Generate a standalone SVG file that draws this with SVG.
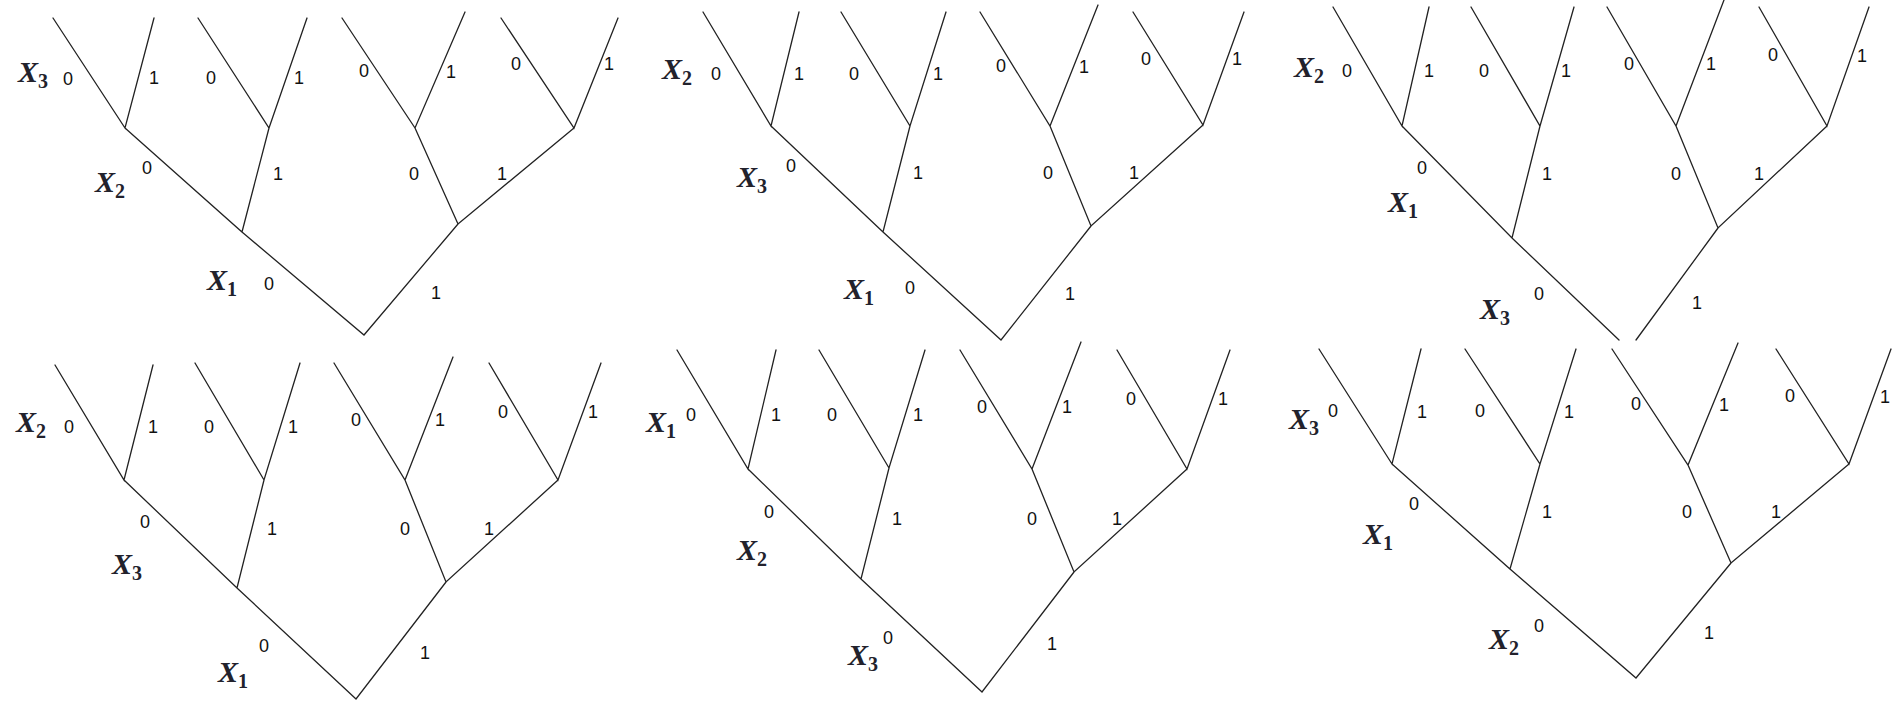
<svg xmlns="http://www.w3.org/2000/svg" width="1899" height="707" viewBox="0 0 1899 707">
<style>
.e{stroke:#222;stroke-width:1.3;fill:none;stroke-linecap:round}
.d{font-family:"Liberation Sans",Arial,sans-serif;font-size:18px;fill:#111;text-anchor:middle}
.v{font-family:"Liberation Serif","Times New Roman",serif;font-size:30px;font-style:italic;font-weight:bold;fill:#22222c;text-anchor:middle}
.s{font-size:20px;font-style:normal}
</style>
<rect width="1899" height="707" fill="#fff"/>

<!-- Tree 1 -->
<g id="tree1">
<g id="tree1-edges">
<path class="e" d="M53,18L125,128L154,18M198,18L269,128L307,18M342,18L415,128L465,12M501,18L574,128L618,18M125,128L242,232L269,128M415,128L458,224L574,128M242,232L364,335L458,224"/>
</g>
<g id="tree1-labels">
<text class="v" x="33" y="82">X<tspan class="s" dy="6">3</tspan></text>
<text class="d" x="68" y="85">0</text><text class="d" x="154" y="84">1</text>
<text class="d" x="211" y="84">0</text><text class="d" x="299" y="84">1</text>
<text class="d" x="364" y="77">0</text><text class="d" x="451" y="78">1</text>
<text class="d" x="516" y="70">0</text><text class="d" x="609" y="70">1</text>
<text class="v" x="110" y="192">X<tspan class="s" dy="6">2</tspan></text>
<text class="d" x="147" y="174">0</text><text class="d" x="278" y="180">1</text>
<text class="d" x="414" y="180">0</text><text class="d" x="502" y="180">1</text>
<text class="v" x="222" y="290">X<tspan class="s" dy="6">1</tspan></text>
<text class="d" x="269" y="290">0</text><text class="d" x="436" y="299">1</text>
</g>
</g>

<!-- Tree 2 -->
<g id="tree2">
<g id="tree2-edges">
<path class="e" d="M703,12L771,126L799,12M841,12L910,126L946,12M980,12L1050,126L1098,5M1133,12L1203,125L1244,12M771,126L883,232L910,126M1050,126L1091,226L1203,125M883,232L1001,340L1091,226"/>
</g>
<g id="tree2-labels">
<text class="v" x="677" y="79">X<tspan class="s" dy="6">2</tspan></text>
<text class="d" x="716" y="80">0</text><text class="d" x="799" y="80">1</text>
<text class="d" x="854" y="80">0</text><text class="d" x="938" y="80">1</text>
<text class="d" x="1001" y="72">0</text><text class="d" x="1084" y="73">1</text>
<text class="d" x="1146" y="65">0</text><text class="d" x="1237" y="65">1</text>
<text class="v" x="752" y="187">X<tspan class="s" dy="6">3</tspan></text>
<text class="d" x="791" y="172">0</text><text class="d" x="918" y="179">1</text>
<text class="d" x="1048" y="179">0</text><text class="d" x="1134" y="179">1</text>
<text class="v" x="859" y="299">X<tspan class="s" dy="6">1</tspan></text>
<text class="d" x="910" y="294">0</text><text class="d" x="1070" y="300">1</text>
</g>
</g>

<!-- Tree 3 -->
<g id="tree3">
<g id="tree3-edges">
<path class="e" d="M1333,7L1402,126L1429,7M1471,7L1540,126L1574,7M1607,7L1676,126L1724,0M1759,7L1827,126L1869,7M1402,126L1512,238L1540,126M1676,126L1718,228L1827,126M1512,238L1619,340M1718,228L1636,340"/>
</g>
<g id="tree3-labels">
<text class="v" x="1309" y="77">X<tspan class="s" dy="6">2</tspan></text>
<text class="d" x="1347" y="77">0</text><text class="d" x="1429" y="77">1</text>
<text class="d" x="1484" y="77">0</text><text class="d" x="1566" y="77">1</text>
<text class="d" x="1629" y="70">0</text><text class="d" x="1711" y="70">1</text>
<text class="d" x="1773" y="61">0</text><text class="d" x="1862" y="62">1</text>
<text class="d" x="1422" y="174">0</text>
<text class="v" x="1403" y="212">X<tspan class="s" dy="6">1</tspan></text>
<text class="d" x="1547" y="180">1</text>
<text class="d" x="1676" y="180">0</text><text class="d" x="1759" y="180">1</text>
<text class="d" x="1539" y="300">0</text>
<text class="v" x="1495" y="319">X<tspan class="s" dy="6">3</tspan></text>
<text class="d" x="1697" y="309">1</text>
</g>
</g>

<!-- Tree 4 -->
<g id="tree4">
<g id="tree4-edges">
<path class="e" d="M55,365L124,480L153,365M195,363L264,480L300,363M334,363L405,480L453,357M489,363L558,480L601,363M124,480L237,588L264,480M405,480L446,582L558,480M237,588L356,699L446,582"/>
</g>
<g id="tree4-labels">
<text class="v" x="31" y="432">X<tspan class="s" dy="6">2</tspan></text>
<text class="d" x="69" y="433">0</text><text class="d" x="153" y="433">1</text>
<text class="d" x="209" y="433">0</text><text class="d" x="293" y="433">1</text>
<text class="d" x="356" y="426">0</text><text class="d" x="440" y="426">1</text>
<text class="d" x="503" y="418">0</text><text class="d" x="593" y="418">1</text>
<text class="d" x="145" y="528">0</text><text class="d" x="272" y="535">1</text>
<text class="d" x="405" y="535">0</text><text class="d" x="489" y="535">1</text>
<text class="v" x="127" y="574">X<tspan class="s" dy="6">3</tspan></text>
<text class="d" x="264" y="652">0</text><text class="d" x="425" y="659">1</text>
<text class="v" x="233" y="682">X<tspan class="s" dy="6">1</tspan></text>
</g>
</g>

<!-- Tree 5 -->
<g id="tree5">
<g id="tree5-edges">
<path class="e" d="M677,350L748,469L776,350M819,350L889,468L925,350M960,350L1032,469L1081,342M1117,350L1187,469L1230,350M748,469L861,579L889,468M1032,469L1074,572L1187,469M861,579L982,692L1074,572"/>
</g>
<g id="tree5-labels">
<text class="v" x="661" y="432">X<tspan class="s" dy="6">1</tspan></text>
<text class="d" x="691" y="421">0</text><text class="d" x="776" y="421">1</text>
<text class="d" x="832" y="421">0</text><text class="d" x="918" y="421">1</text>
<text class="d" x="982" y="413">0</text><text class="d" x="1067" y="413">1</text>
<text class="d" x="1131" y="405">0</text><text class="d" x="1223" y="405">1</text>
<text class="d" x="769" y="518">0</text><text class="d" x="897" y="525">1</text>
<text class="d" x="1032" y="525">0</text><text class="d" x="1117" y="525">1</text>
<text class="v" x="752" y="560">X<tspan class="s" dy="6">2</tspan></text>
<text class="d" x="888" y="644">0</text><text class="d" x="1052" y="650">1</text>
<text class="v" x="863" y="665">X<tspan class="s" dy="6">3</tspan></text>
</g>
</g>

<!-- Tree 6 -->
<g id="tree6">
<g id="tree6-edges">
<path class="e" d="M1319,349L1392,464L1421,349M1465,349L1540,464L1576,349M1612,349L1688,465L1738,343M1776,349L1849,464L1891,349M1392,464L1510,569L1540,464M1688,465L1731,563L1849,464M1510,569L1636,678L1731,563"/>
</g>
<g id="tree6-labels">
<text class="v" x="1304" y="429">X<tspan class="s" dy="6">3</tspan></text>
<text class="d" x="1333" y="417">0</text><text class="d" x="1422" y="418">1</text>
<text class="d" x="1480" y="417">0</text><text class="d" x="1569" y="418">1</text>
<text class="d" x="1636" y="410">0</text><text class="d" x="1724" y="411">1</text>
<text class="d" x="1790" y="402">0</text><text class="d" x="1885" y="403">1</text>
<text class="d" x="1414" y="510">0</text>
<text class="v" x="1378" y="544">X<tspan class="s" dy="6">1</tspan></text>
<text class="d" x="1547" y="518">1</text>
<text class="d" x="1687" y="518">0</text><text class="d" x="1776" y="518">1</text>
<text class="d" x="1539" y="632">0</text>
<text class="v" x="1504" y="649">X<tspan class="s" dy="6">2</tspan></text>
<text class="d" x="1709" y="639">1</text>
</g>
</g>
</svg>
